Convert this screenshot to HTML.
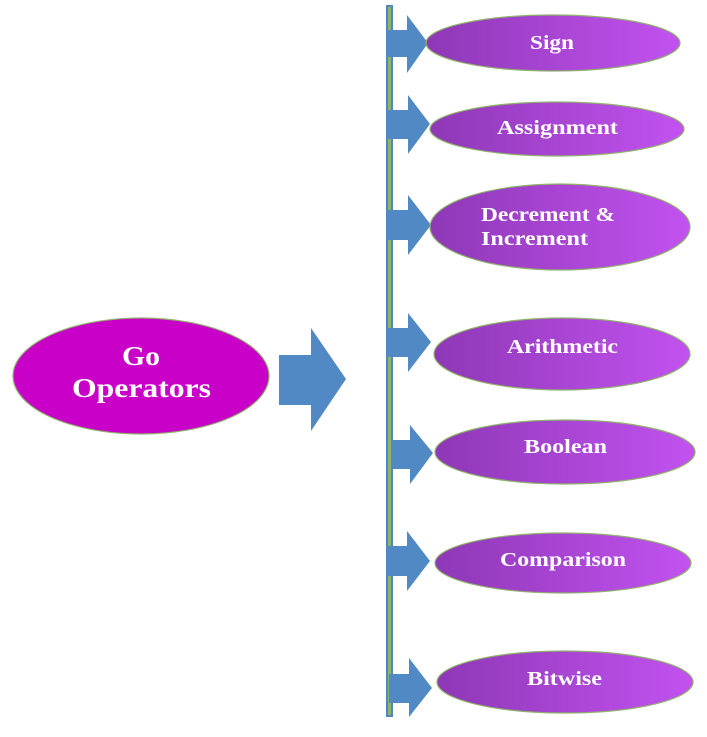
<!DOCTYPE html>
<html><head><meta charset="utf-8"><style>
html,body{margin:0;padding:0;background:#fff;}
svg{display:block;}
text{font-family:"Liberation Serif",serif;font-weight:bold;fill:#fff;}
</style></head><body>
<svg width="707" height="737" viewBox="0 0 707 737" xmlns="http://www.w3.org/2000/svg">
<defs>
<linearGradient id="g" x1="0" x2="1" y1="0" y2="0">
<stop offset="0" stop-color="#8e38b6"/>
<stop offset="1" stop-color="#c252f0"/>
</linearGradient>
</defs>
<rect x="386" y="5" width="7" height="712" fill="#4f87c0"/>
<rect x="388" y="7" width="3" height="708" fill="#8fb36a"/>
<g fill="#5089c4">
<polygon points="386,30 407,30 407,15 428,43 407,73 407,57 386,57"/>
<polygon points="386,110 408,110 408,95 430,124 408,154 408,139 386,139"/>
<polygon points="386,210 408,210 408,195 431,225 408,255 408,240 386,240"/>
<polygon points="386,328 408,328 408,313 431,342 408,372 408,357 386,357"/>
<polygon points="391,440 410,440 410,425 433,453 410,484 410,469 391,469"/>
<polygon points="386,546 407,546 407,531 430,561 407,591 407,576 386,576"/>
<polygon points="389,674 409,674 409,658 432,688 409,717 409,703 389,703"/>
<polygon points="279,355 311,355 311,328 346,379 311,431 311,405 279,405"/>
</g>
<g fill="url(#g)" stroke="#8fb36a" stroke-width="1.2">
<ellipse cx="553" cy="43" rx="127" ry="28"/>
<ellipse cx="557" cy="129" rx="127" ry="27"/>
<ellipse cx="560" cy="227" rx="130" ry="43"/>
<ellipse cx="562" cy="354" rx="128" ry="36"/>
<ellipse cx="565" cy="452" rx="130" ry="32"/>
<ellipse cx="563" cy="563" rx="128" ry="30"/>
<ellipse cx="565" cy="682" rx="128" ry="31"/>
</g>
<ellipse cx="141" cy="376" rx="128" ry="58" fill="#c800c8" stroke="#8fb36a" stroke-width="1.2"/>
<g font-size="20">
<text x="530" y="49" textLength="44" lengthAdjust="spacingAndGlyphs">Sign</text>
<text x="497" y="134" textLength="121" lengthAdjust="spacingAndGlyphs">Assignment</text>
<text x="481" y="221" textLength="134" lengthAdjust="spacingAndGlyphs">Decrement &amp;</text>
<text x="481" y="245" textLength="107" lengthAdjust="spacingAndGlyphs">Increment</text>
<text x="507" y="353" textLength="111" lengthAdjust="spacingAndGlyphs">Arithmetic</text>
<text x="524" y="453" textLength="83" lengthAdjust="spacingAndGlyphs">Boolean</text>
<text x="500" y="566" textLength="126" lengthAdjust="spacingAndGlyphs">Comparison</text>
<text x="527" y="685" textLength="75" lengthAdjust="spacingAndGlyphs">Bitwise</text>
</g>
<g font-size="27">
<text x="122" y="365" textLength="38" lengthAdjust="spacingAndGlyphs">Go</text>
<text x="72" y="397" textLength="139" lengthAdjust="spacingAndGlyphs">Operators</text>
</g>
</svg>
</body></html>
